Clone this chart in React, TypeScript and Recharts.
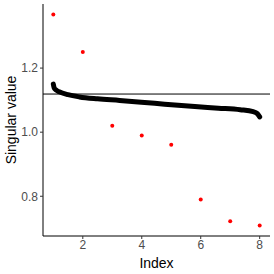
import { ComposedChart, Line, Scatter, XAxis, YAxis, ReferenceLine, Label } from 'recharts';

// observed singular values (red points)
const indexValues = [1, 2, 3, 4, 5, 6, 7, 8];
const singularValues = [1.367, 1.25, 1.02, 0.99, 0.961, 0.79, 0.722, 0.709];

// reference curve (dense black band)
const curveIndex = [1.0, 1.03, 1.1, 1.2, 1.5, 1.89, 2.5, 3.25, 4.44, 5.8, 6.6, 7.34, 7.78, 7.92, 8.0];
const curveValues = [1.15, 1.138, 1.131, 1.126, 1.117, 1.11, 1.104, 1.099, 1.09, 1.08, 1.075, 1.07, 1.064, 1.058, 1.048];

const threshold = 1.119;

const xTicks = [2, 4, 6, 8];
const yTicks = [0.8, 1.0, 1.2];

const points = indexValues.map((x, i) => ({ x, y: singularValues[i] }));
const curve = curveIndex.map((x, i) => ({ x, y: curveValues[i] }));

const FONT = '"Liberation Sans", Arial, sans-serif';

export default function App() {
  return (
    <div style={{ position: 'absolute', left: 0, top: 0, background: '#fff' }}>
      <ComposedChart width={274} height={274} margin={{ top: 4, right: 4, left: 0, bottom: 0 }}>
        <XAxis
          type="number"
          dataKey="x"
          domain={[0.65, 8.35]}
          ticks={xTicks}
          height={38}
          tickSize={3}
          tickMargin={1}
          stroke="#000"
          tickLine={{ stroke: '#333' }}
          tick={{ fill: '#4D4D4D', fontSize: 12, fontFamily: FONT }}
          allowDataOverflow
        >
          <Label value="Index" position="insideBottom" offset={6} style={{ fill: '#000', fontSize: 14, fontFamily: FONT }} />
        </XAxis>
        <YAxis
          type="number"
          dataKey="y"
          domain={[0.676, 1.4]}
          ticks={yTicks}
          tickFormatter={(v: number) => v.toFixed(1)}
          width={43}
          tickSize={3}
          tickMargin={2}
          stroke="#000"
          tickLine={{ stroke: '#333' }}
          tick={{ fill: '#4D4D4D', fontSize: 12, fontFamily: FONT }}
          allowDataOverflow
        >
          <Label value="Singular value" angle={-90} position="insideLeft" offset={11} style={{ textAnchor: 'middle', fill: '#000', fontSize: 14, fontFamily: FONT }} />
        </YAxis>
        <ReferenceLine y={threshold} stroke="#000" strokeWidth={1} />
        <Line
          data={curve}
          dataKey="y"
          type="monotone"
          stroke="#000"
          strokeWidth={5}
          strokeLinecap="round"
          dot={false}
          activeDot={false}
          isAnimationActive={false}
        />
        <Scatter data={points} dataKey="y" fill="#FF0000" shape={(p: any) => <circle cx={p.cx} cy={p.cy} r={2} fill="#FF0000" />} isAnimationActive={false} />
      </ComposedChart>
    </div>
  );
}
